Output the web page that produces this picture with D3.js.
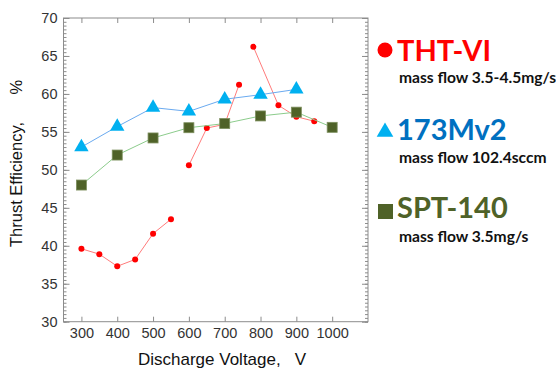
<!DOCTYPE html>
<html><head><meta charset="utf-8">
<script src="https://cdn.jsdelivr.net/npm/d3@7"></script>
<style>
html,body{margin:0;padding:0;background:#fff;}
svg{display:block;}
</style></head>
<body>
<svg id="chart" width="556" height="369"></svg>
<script>
// ---- data ----
const thtVolts = [300, 350, 400, 450, 500, 550, 600, 650, 700, 740, 780, 850, 900, 950];
const thtEff   = [39.6, 38.9, 37.3, 38.2, 41.6, 43.5, 50.6, 55.5, 56.0, 61.2, 66.2, 58.5, 57.0, 56.4];
const thtSeg   = [1, 1, 1, 1, 1, 1, 2, 2, 2, 2, 3, 3, 3, 3];

const mvVolts = [300, 400, 500, 600, 700, 800, 900];
const mvEff   = [53.0, 55.7, 58.2, 57.7, 59.3, 59.9, 60.6];

const sptVolts = [300, 400, 500, 600, 700, 800, 900, 1000];
const sptEff   = [48.0, 51.95, 54.2, 55.55, 56.1, 57.1, 57.6, 55.6];

const xTicks = [300, 400, 500, 600, 700, 800, 900, 1000];
const yTicks = [30, 35, 40, 45, 50, 55, 60, 65, 70];

const legendNames = ["THT-VI", "173Mv2", "SPT-140"];
const legendSubs  = ["mass flow 3.5-4.5mg/s", "mass flow 102.4sccm", "mass flow 3.5mg/s"];

// ---- layout ----
const svg = d3.select("#chart");
const L = 63.5, R = 368, T = 18, B = 321.7;
const x = d3.scaleLinear().domain([250, 1100]).range([L, R]);
const y = d3.scaleLinear().domain([30, 70]).range([B, T]);

const frameColor = "#8c8c8c";
const textColor = "#333";
const axFont = "'Liberation Sans', Arial, sans-serif";

// frame
svg.append("rect").attr("x", L).attr("y", T).attr("width", R - L).attr("height", B - T)
  .attr("fill", "none").attr("stroke", frameColor).attr("stroke-width", 1);

// axes (inward ticks)
const yMinor = d3.range(30, 70.01, 0.5);
const gL = svg.append("g").attr("transform", `translate(${L},0)`)
  .call(d3.axisRight(y).tickValues(yMinor).tickSize(3).tickFormat(""));
const gL2 = svg.append("g").attr("transform", `translate(${L},0)`)
  .call(d3.axisRight(y).tickValues(yTicks).tickSize(6).tickFormat(""));
const gR = svg.append("g").attr("transform", `translate(${R},0)`)
  .call(d3.axisLeft(y).tickValues(yMinor).tickSize(3).tickFormat(""));
const gR2 = svg.append("g").attr("transform", `translate(${R},0)`)
  .call(d3.axisLeft(y).tickValues(yTicks).tickSize(6).tickFormat(""));
const gB = svg.append("g").attr("transform", `translate(0,${B})`)
  .call(d3.axisTop(x).tickValues(xTicks).tickSize(5).tickFormat(""));
const gT = svg.append("g").attr("transform", `translate(0,${T})`)
  .call(d3.axisBottom(x).tickValues(xTicks).tickSize(5).tickFormat(""));
[gL, gL2, gR, gR2, gB, gT].forEach(g => {
  g.select(".domain").remove();
  g.selectAll("line").attr("stroke", frameColor);
});

// tick labels
const gYL = svg.append("g").attr("transform", `translate(${L},0)`)
  .call(d3.axisLeft(y).tickValues(yTicks).tickSize(0).tickPadding(6).tickFormat(d3.format("d")));
gYL.select(".domain").remove();
gYL.selectAll("text").attr("font-family", axFont)
  .attr("font-size", 14.5).attr("fill", textColor);
const gXB = svg.append("g").attr("transform", `translate(0,${B})`)
  .call(d3.axisBottom(x).tickValues(xTicks).tickSize(0).tickPadding(6).tickFormat(d3.format("d")));
gXB.select(".domain").remove();
gXB.selectAll("text").attr("font-family", axFont)
  .attr("font-size", 14.5).attr("fill", textColor);

// axis titles
svg.append("text").attr("transform", "translate(22,247) rotate(-90)")
  .attr("font-family", axFont).attr("font-size", 16.5)
  .attr("fill", "#111").style("white-space", "pre")
  .text("Thrust Efficiency,      %");
svg.append("text").attr("x", 138).attr("y", 365)
  .attr("font-family", axFont).attr("font-size", 17)
  .attr("fill", "#111").style("white-space", "pre")
  .text("Discharge Voltage,   V");

// ---- series ----
const line = d3.line().x(d => x(d.v)).y(d => y(d.e));

// THT-VI (red) segments
const tht = thtVolts.map((v, i) => ({v, e: thtEff[i], s: thtSeg[i]}));
const segs = d3.groups(tht, d => d.s);
segs.forEach(([k, pts]) => {
  svg.append("path").attr("d", line(pts)).attr("fill", "none")
    .attr("stroke", "#ff7b7b").attr("stroke-width", 1);
});
svg.append("g").selectAll("circle").data(tht).join("circle")
  .attr("cx", d => x(d.v)).attr("cy", d => y(d.e)).attr("r", 3)
  .attr("fill", "#ff0000");

// SPT-140 (green)
const spt = sptVolts.map((v, i) => ({v, e: sptEff[i]}));
svg.append("path").attr("d", line(spt)).attr("fill", "none")
  .attr("stroke", "#8ccc8c").attr("stroke-width", 1);
svg.append("g").selectAll("rect").data(spt).join("rect")
  .attr("x", d => x(d.v) - 5).attr("y", d => y(d.e) - 5)
  .attr("width", 10).attr("height", 10)
  .attr("fill", "#4f6228").attr("stroke", "#7d8f5e").attr("stroke-width", 0.8);

// 173Mv2 (blue)
const mv = mvVolts.map((v, i) => ({v, e: mvEff[i]}));
svg.append("path").attr("d", line(mv)).attr("fill", "none")
  .attr("stroke", "#6aaaf0").attr("stroke-width", 1);
const tri = d3.symbol().type(d3.symbolTriangle).size(90);
svg.append("g").selectAll("path").data(mv).join("path")
  .attr("d", tri).attr("transform", d => `translate(${x(d.v)},${y(d.e)})`)
  .attr("fill", "#00b0f0");

// ---- legend ----
const legFont = "Lato, 'Open Sans', sans-serif";
const legColors = ["#ff0000", "#0070c0", "#4f6228"];
const legBase = [61, 140, 218];
const subBase = [83, 163, 242];
// markers
svg.append("circle").attr("cx", 385).attr("cy", 50).attr("r", 7.5).attr("fill", "#ff0000");
svg.append("path").attr("d", d3.symbol().type(d3.symbolTriangle).size(120)())
  .attr("transform", "translate(385,132)").attr("fill", "#00b0f0");
svg.append("rect").attr("x", 378).attr("y", 204).attr("width", 15).attr("height", 15)
  .attr("fill", "#4f6228");

legendNames.forEach((n, i) => {
  svg.append("text").attr("x", 397).attr("y", legBase[i])
    .attr("font-family", legFont).attr("font-weight", "bold").attr("font-size", 29)
    .attr("fill", legColors[i]).text(n);
  svg.append("text").attr("x", 399).attr("y", subBase[i])
    .attr("font-family", legFont).attr("font-weight", "bold").attr("font-size", 15.6)
    .attr("fill", "#111").text(legendSubs[i]);
});
</script>
</body></html>
